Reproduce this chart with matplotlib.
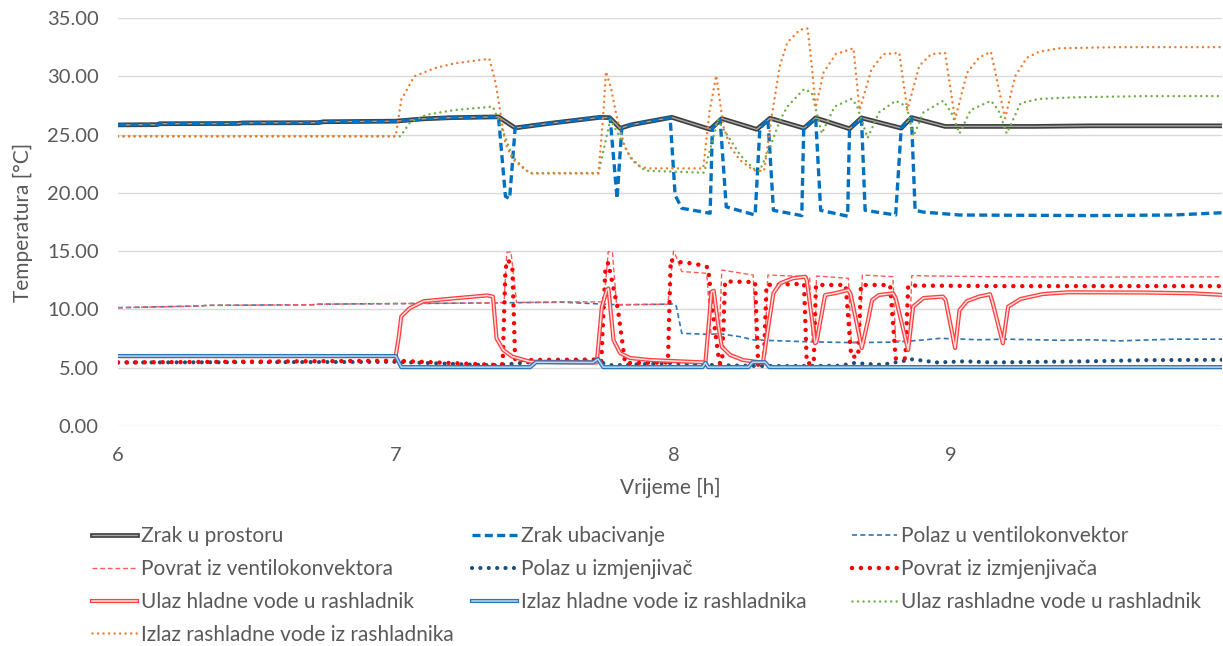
import matplotlib
matplotlib.use("Agg")
import matplotlib.pyplot as plt

plt.rcParams['font.family'] = ['Lato', 'DejaVu Sans']

# Zrak u prostoru
t_zrak = [6.00, 6.14, 6.15, 6.43, 6.45, 6.72, 6.74, 7.00, 7.10, 7.20, 7.37, 7.43, 7.55, 7.736, 7.77, 7.808, 7.85,
          7.994, 8.132, 8.174, 8.30, 8.348, 8.47, 8.512, 8.634, 8.677, 8.82, 8.857, 8.978, 9.30, 9.50, 9.98]
T_zrak = [25.83, 25.85, 25.93, 25.95, 26.0, 26.02, 26.1, 26.15, 26.35, 26.45, 26.52, 25.57, 25.95, 26.48, 26.45, 25.54, 25.85,
          26.48, 25.45, 26.37, 25.45, 26.4, 25.55, 26.43, 25.5, 26.43, 25.55, 26.46, 25.7, 25.7, 25.75, 25.75]

# Zrak ubacivanje
t_ubac = [6.00, 6.14, 6.15, 6.43, 6.45, 6.72, 6.74, 7.00, 7.10, 7.20, 7.37, 7.395, 7.41, 7.43, 7.55, 7.736, 7.772, 7.797,
          7.814, 7.85, 7.988, 8.006, 8.03, 8.132, 8.14, 8.168, 8.19, 8.294, 8.311, 8.34, 8.36, 8.462, 8.469, 8.512, 8.53,
          8.627, 8.634, 8.677, 8.69, 8.80, 8.82, 8.857, 8.87, 8.90, 9.03, 9.50, 9.80, 9.98]
T_ubac = [25.83, 25.85, 25.93, 25.95, 26.0, 26.02, 26.1, 26.15, 26.35, 26.45, 26.52, 19.7, 19.5, 25.57, 25.95, 26.48, 26.4, 19.5,
          25.6, 25.85, 26.45, 19.8, 18.68, 18.25, 25.5, 26.3, 18.8, 18.1, 25.5, 26.35, 18.5, 18.05, 25.55, 26.4, 18.5,
          18.0, 25.5, 26.4, 18.5, 18.1, 25.55, 26.45, 18.5, 18.35, 18.1, 18.05, 18.1, 18.3]

# Polaz u ventilokonvektor
t_pvk = [6.0, 6.1, 6.3, 6.32, 6.7, 6.72, 7.0, 7.3, 7.6, 7.8, 7.99, 8.0, 8.01, 8.03, 8.12, 8.17, 8.24, 8.29, 8.48, 8.65,
         8.80, 8.90, 8.96, 9.1, 9.2, 9.4, 9.5, 9.6, 9.8, 9.98]
T_pvk = [10.15, 10.2, 10.3, 10.35, 10.4, 10.45, 10.5, 10.55, 10.62, 10.4, 10.45, 10.5, 10.3, 7.95, 7.87, 7.9, 7.66, 7.38, 7.23, 7.15,
         7.2, 7.38, 7.52, 7.4, 7.45, 7.35, 7.4, 7.3, 7.45, 7.45]

# Povrat iz ventilokonvektora
t_rvk = [6.0, 6.1, 6.3, 6.32, 6.7, 6.72, 7.0, 7.3, 7.39, 7.40, 7.415, 7.435, 7.6, 7.75, 7.765, 7.78, 7.795, 7.813, 7.98,
         8.0, 8.01, 8.03, 8.12, 8.135, 8.165, 8.174, 8.287, 8.297, 8.33, 8.34, 8.49, 8.50, 8.51, 8.515, 8.63, 8.64, 8.67,
         8.68, 8.79, 8.80, 8.85, 8.858, 9.0, 9.2, 9.5, 9.98]
T_rvk = [10.15, 10.2, 10.3, 10.35, 10.4, 10.45, 10.5, 10.55, 10.6, 14.9, 14.95, 10.6, 10.65, 10.65, 14.95, 14.95, 10.45, 10.4, 10.45,
         15.0, 14.5, 13.25, 13.1, 7.9, 7.9, 13.38, 12.95, 7.4, 7.4, 12.95, 12.81, 7.3, 7.3, 12.87, 12.67, 7.2, 7.2,
         12.95, 12.81, 7.3, 7.3, 12.9, 12.85, 12.8, 12.78, 12.8]

# Polaz u izmjenjivač
t_piz = [6.0, 7.0, 7.35, 7.5, 7.72, 7.78, 7.99, 8.14, 8.3, 8.45, 8.6, 8.65, 8.75, 8.86, 8.95, 9.05, 9.15, 9.3, 9.5, 9.7, 9.98]
T_piz = [5.45, 5.5, 5.2, 5.5, 5.55, 5.2, 5.4, 5.23, 5.15, 5.15, 5.17, 5.4, 5.25, 5.72, 5.45, 5.55, 5.45, 5.5, 5.55, 5.65, 5.68]

# Povrat iz izmjenjivača
t_riz = [6.0, 7.0, 7.1, 7.35, 7.385, 7.395, 7.405, 7.42, 7.43, 7.45, 7.72, 7.74, 7.755, 7.765, 7.80, 7.826, 7.98, 7.99,
         8.0, 8.05, 8.10, 8.125, 8.14, 8.165, 8.175, 8.186, 8.294, 8.305, 8.325, 8.335, 8.47, 8.48, 8.505, 8.513, 8.62,
         8.64, 8.665, 8.675, 8.78, 8.80, 8.835, 8.845, 9.2, 9.98]
T_riz = [5.45, 5.6, 5.5, 5.25, 5.3, 13.5, 14.25, 13.5, 5.6, 5.66, 5.7, 5.5, 13.5, 14.0, 10.0, 5.4, 5.45, 14.3,
         14.1, 14.0, 13.8, 13.6, 10.0, 5.4, 5.4, 12.4, 12.35, 5.23, 5.23, 12.1, 12.2, 5.38, 5.38, 12.1, 12.1,
         5.95, 5.95, 12.1, 12.1, 5.8, 5.8, 12.05, 12.0, 12.0]

# Ulaz hladne vode u rashladnik
t_uhv = [6.0, 7.0, 7.01, 7.02, 7.05, 7.10, 7.21, 7.33, 7.35, 7.363, 7.387, 7.42, 7.484, 7.6, 7.724, 7.742, 7.76, 7.766,
         7.784, 7.808, 7.844, 7.916, 8.115, 8.137, 8.145, 8.16, 8.174, 8.204, 8.25, 8.322, 8.335, 8.36, 8.384, 8.43,
         8.474, 8.48, 8.51, 8.515, 8.546, 8.58, 8.63, 8.638, 8.678, 8.70, 8.715, 8.74, 8.79, 8.80, 8.845, 8.863, 8.90,
         8.97, 8.98, 9.014, 9.03, 9.057, 9.1, 9.14, 9.15, 9.186, 9.205, 9.25, 9.33, 9.42, 9.7, 9.87, 9.98]
T_uhv = [6.0, 6.0, 7.5, 9.4, 10.1, 10.7, 10.95, 11.2, 11.1, 7.52, 6.52, 5.95, 5.52, 5.47, 5.45, 10.2, 11.67, 11.8,
         7.38, 6.25, 5.83, 5.66, 5.45, 11.52, 11.6, 8.83, 6.8, 6.09, 5.66, 5.43, 7.5, 11.4, 12.24, 12.67,
         12.81, 12.5, 7.1, 7.2, 11.24, 11.38, 11.67, 11.3, 6.69, 9.0, 10.8, 11.24, 11.38, 11.0, 6.52, 10.24, 10.98,
         11.1, 10.8, 6.69, 9.95, 10.72, 11.1, 11.3, 10.5, 7.1, 10.24, 10.9, 11.32, 11.47, 11.45, 11.38, 11.24]

# Izlaz hladne vode iz rashladnika
t_ihv = [6.0, 7.0, 7.02, 7.484, 7.505, 7.71, 7.728, 7.747, 8.105, 8.115, 8.125, 8.27, 8.285, 8.33, 8.345, 9.98]
T_ihv = [6.0, 6.0, 5.05, 5.05, 5.47, 5.45, 5.75, 5.05, 5.05, 5.43, 5.05, 5.05, 5.47, 5.47, 5.05, 5.05]

# Ulaz rashladne vode u rashladnik
t_urv = [6.0, 7.017, 7.05, 7.11, 7.21, 7.35, 7.38, 7.42, 7.48, 7.73, 7.773, 7.818, 7.85, 7.9, 8.11, 8.16, 8.19, 8.24,
         8.287, 8.31, 8.348, 8.384, 8.41, 8.47, 8.498, 8.534, 8.58, 8.641, 8.66, 8.699, 8.74, 8.80, 8.84, 8.864, 8.90,
         8.971, 9.0, 9.03, 9.07, 9.143, 9.17, 9.20, 9.25, 9.316, 9.45, 9.7, 9.98]
T_urv = [24.85, 24.85, 26.0, 26.7, 27.1, 27.4, 25.7, 23.1, 21.7, 21.7, 26.3, 24.28, 22.8, 21.9, 21.73, 26.25, 25.1, 23.25,
         22.1, 21.87, 23.96, 26.25, 27.4, 28.9, 28.6, 25.1, 27.4, 28.06, 27.5, 24.7, 26.9, 27.9, 27.4, 24.86, 26.9,
         27.9, 26.9, 25.1, 27.1, 27.9, 27.1, 25.1, 27.7, 28.06, 28.2, 28.3, 28.3]

# Izlaz rashladne vode iz rashladnika
t_irv = [6.0, 7.0, 7.02, 7.067, 7.14, 7.21, 7.337, 7.36, 7.394, 7.42, 7.465, 7.49, 7.73, 7.745, 7.757, 7.775, 7.795,
         7.824, 7.844, 7.88, 7.91, 8.107, 8.13, 8.154, 8.18, 8.204, 8.24, 8.287, 8.326, 8.354, 8.383, 8.41, 8.455,
         8.483, 8.498, 8.512, 8.54, 8.584, 8.648, 8.67, 8.713, 8.756, 8.813, 8.842, 8.885, 8.928, 8.978, 9.014, 9.057,
         9.1, 9.143, 9.194, 9.23, 9.273, 9.316, 9.387, 9.6, 9.98]
T_irv = [24.85, 24.85, 28.0, 30.0, 30.7, 31.1, 31.5, 29.4, 24.3, 22.9, 22.0, 21.66, 21.66, 26.0, 30.4, 29.0, 26.6,
         24.0, 23.1, 22.25, 22.1, 22.1, 27.0, 30.06, 25.68, 23.96, 22.8, 21.96, 21.86, 26.6, 30.9, 32.9, 34.0,
         34.1, 30.9, 27.3, 30.3, 31.9, 32.4, 27.1, 30.6, 31.9, 32.0, 27.1, 30.9, 31.9, 32.0, 26.3, 30.3,
         31.6, 32.1, 26.4, 30.0, 31.6, 32.1, 32.4, 32.5, 32.5]

labels = ["Zrak u prostoru", "Zrak ubacivanje", "Polaz u ventilokonvektor",
          "Povrat iz ventilokonvektora", "Polaz u izmjenjivač", "Povrat iz izmjenjivača",
          "Ulaz hladne vode u rashladnik", "Izlaz hladne vode iz rashladnika", "Ulaz rashladne vode u rashladnik",
          "Izlaz rashladne vode iz rashladnika"]
y_ticks = [0, 5, 10, 15, 20, 25, 30, 35]
x_ticks = [6, 7, 8, 9]

fig = plt.figure(figsize=(12.23, 6.46), dpi=100)
ax = fig.add_axes([118 / 1223, 1 - 426 / 646, 1104 / 1223, 408 / 646])

dot = (0, (0.01, 2.0))
handles = []
z = 2
def double(t, T, outer, inner, lw_o, lw_i):
    global z
    a, = ax.plot(t, T, color=outer, lw=lw_o, zorder=z, solid_joinstyle='round')
    b, = ax.plot(t, T, color=inner, lw=lw_i, zorder=z + 0.5, solid_joinstyle='round')
    z += 1
    return (a, b)

def single(t, T, **kw):
    global z
    l, = ax.plot(t, T, zorder=z, **kw)
    z += 1
    return l

handles.append(double(t_zrak, T_zrak, '#3F3F3F', '#A6A6A6', 3.4, 1.0))
handles.append(single(t_ubac, T_ubac, color='#0070C0', lw=2.4, dashes=(2.4, 1.3)))
handles.append(single(t_pvk, T_pvk, color='#2E75B6', lw=1.2, dashes=(3, 2)))
handles.append(single(t_rvk, T_rvk, color='#FF5B5B', lw=1.0, dashes=(3.5, 2)))
handles.append(single(t_piz, T_piz, color='#1F4E79', lw=3.0, linestyle=dot, dash_capstyle='round'))
handles.append(single(t_riz, T_riz, color='#FF0000', lw=3.2, linestyle=dot, dash_capstyle='round'))
handles.append(double(t_uhv, T_uhv, '#FF4040', '#FFE0E0', 3.0, 1.1))
handles.append(double(t_ihv, T_ihv, '#2E75B6', '#BDD7EE', 3.0, 1.1))
handles.append(single(t_urv, T_urv, color='#70AD47', lw=1.8, linestyle=(0, (0.01, 2.2)), dash_capstyle='round'))
handles.append(single(t_irv, T_irv, color='#ED7D31', lw=1.8, linestyle=(0, (0.01, 2.2)), dash_capstyle='round'))

ax.set_xlim(6, 9.975)
ax.set_ylim(0, 35)
ax.set_yticks(y_ticks)
ax.set_yticklabels(["{:.2f}".format(v) for v in y_ticks])
ax.set_xticks(x_ticks)
ax.grid(axis='y', color='#D9D9D9', lw=1)
ax.set_axisbelow(True)
for s in ax.spines.values():
    s.set_visible(False)
ax.tick_params(length=0, labelsize=14.5, colors='#595959')
ax.tick_params(axis='y', pad=14)
ax.tick_params(axis='x', pad=15)
ax.set_xlabel("Vrijeme [h]", fontsize=15, color='#595959', labelpad=10)
ax.set_ylabel("Temperatura [°C]", fontsize=15, color='#595959', labelpad=10)

# legend: three fixed columns, filled row-wise like Excel
col_x = [92, 472, 852]
for c in range(3):
    idx = list(range(c, len(labels), 3))
    fig.legend([handles[i] for i in idx], [labels[i] for i in idx],
               loc='upper left', bbox_to_anchor=(col_x[c] / 1223, 1 - 526 / 646),
               frameon=False, fontsize=15, labelcolor='#595959', handlelength=2.15,
               handletextpad=0.2, labelspacing=0.62, borderaxespad=0, borderpad=0)

fig.savefig("out.png", dpi=100)
